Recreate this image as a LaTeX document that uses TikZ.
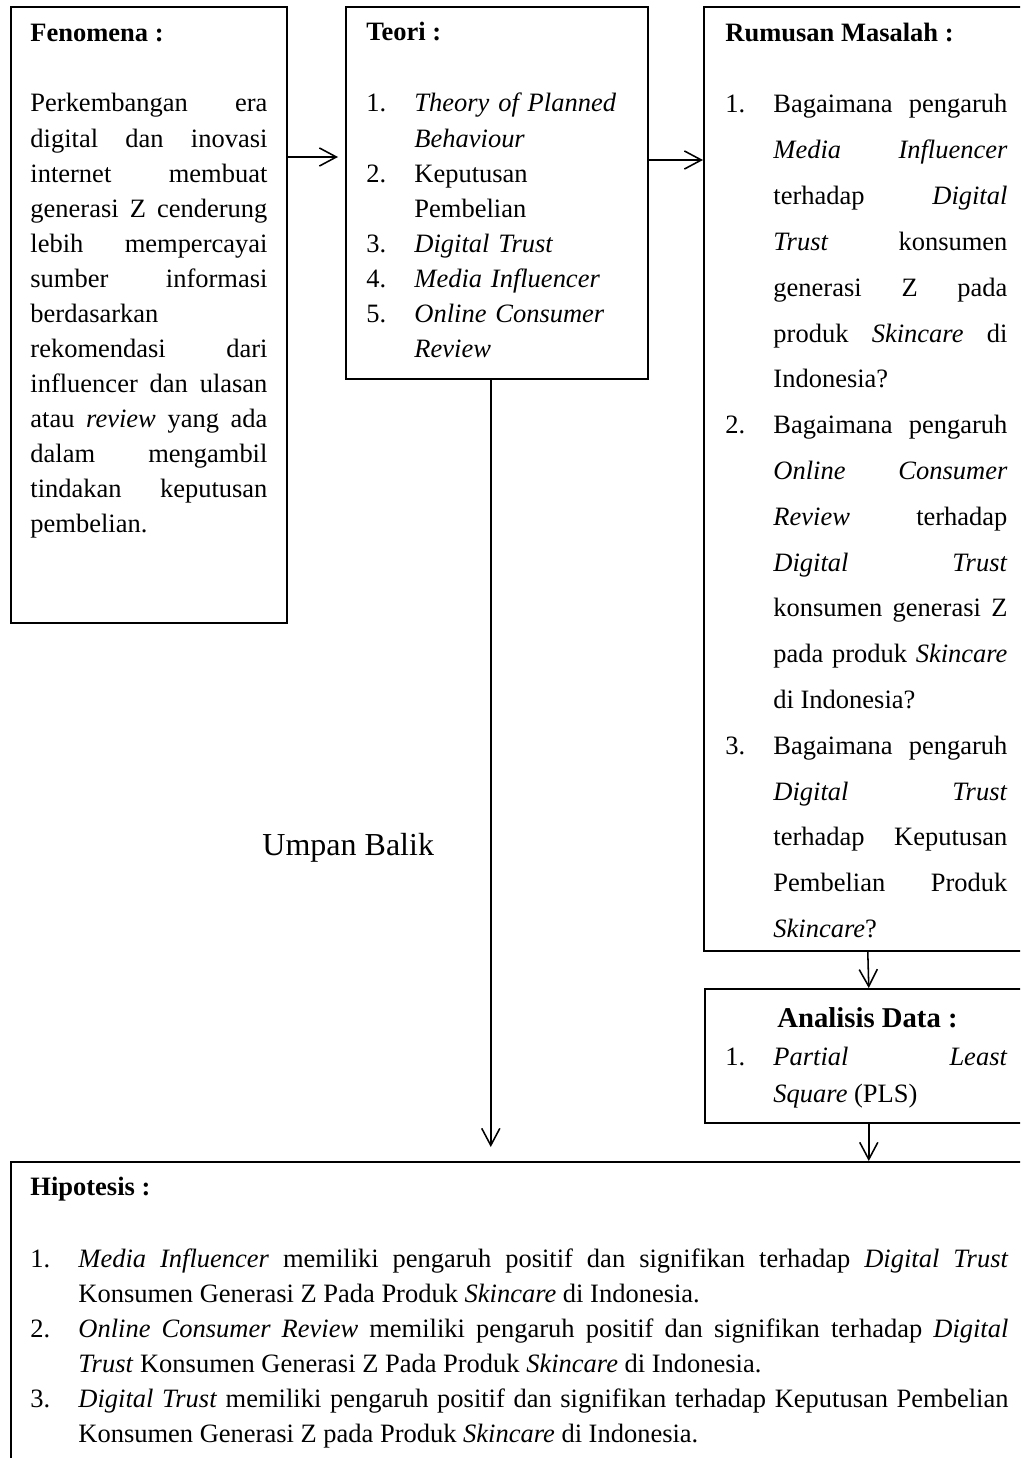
\documentclass[tikz,border=0pt]{standalone}
\usepackage{fontspec}
\setmainfont{Liberation Serif}
\usetikzlibrary{arrows.meta}
\newlength\px
\setlength\px{0.453pt}
\tolerance=10000
\hyphenpenalty=10000
\hbadness=10000
\newcommand{\litem}[1]{\hangindent=48\px\hangafter=1\makebox[48\px][l]{#1}}
\begin{document}
\begin{tikzpicture}[>={Straight Barb[length=7.7pt,width=8.2pt]}, x=0.453pt, y=-0.453pt,
    box/.style={draw, line width=0.7pt, inner sep=0pt, anchor=north west},
    head/.style={anchor=base west, inner sep=0pt, font=\fontsize{12pt}{15.86pt}\selectfont\bfseries},
    txt/.style={anchor=base west, inner sep=0pt, align=justify, font=\fontsize{12pt}{15.86pt}\selectfont},
    link/.style={->, line width=0.7pt}]

  \useasboundingbox (0,0) rectangle (1020,1458);
  \clip (0,0) rectangle (1020,1458);

  \node[box, minimum width=276\px, minimum height=616\px] (fenomena) at (10,6) {};
  \node[box, minimum width=302\px, minimum height=372\px] (teori) at (345,6) {};
  \node[box, minimum width=328\px, minimum height=944\px] (rumusan) at (703,6) {};
  \node[box, minimum width=328\px, minimum height=134\px] (analisis) at (704,988) {};
  \node[box, minimum width=1021\px, minimum height=320\px] (hipotesis) at (10,1161) {};

  \node[head] (fenomenahead) at (30,42) {Fenomena :};
  \node[txt, text width=237\px] (fenomenatext) at (30,112) {Perkembangan era\linebreak
    digital dan inovasi\linebreak internet membuat\linebreak generasi Z cenderung\linebreak
    lebih mempercayai\linebreak sumber informasi\linebreak berdasarkan\newline
    rekomendasi dari\linebreak influencer dan ulasan\linebreak atau \emph{review} yang ada\linebreak
    dalam mengambil\linebreak tindakan keputusan\linebreak pembelian.};

  \node[head] (teorihead) at (366,41) {Teori :};
  \node[txt, align=left, text width=270\px] (teoritext) at (366,112) {%
    \litem{1.}\emph{Theory of Planned}\newline\emph{Behaviour}\par
    \litem{2.}Keputusan\newline Pembelian\par
    \litem{3.}\emph{Digital Trust}\par
    \litem{4.}\emph{Media Influencer}\par
    \litem{5.}\emph{Online Consumer}\newline\emph{Review}\par};

  \node[head] (rumusanhead) at (725,42) {Rumusan Masalah :};
  \node[txt, text width=282\px, font=\fontsize{12pt}{20.75pt}\selectfont] (rumusantext) at (725,113) {%
    \litem{1.}Bagaimana pengaruh\linebreak \emph{Media Influencer}\linebreak terhadap \emph{Digital}\linebreak
    \emph{Trust} konsumen\linebreak generasi Z pada\linebreak produk \emph{Skincare} di\linebreak Indonesia?\par
    \litem{2.}Bagaimana pengaruh\linebreak \emph{Online Consumer}\linebreak \emph{Review} terhadap\linebreak
    \emph{Digital Trust}\linebreak konsumen generasi Z\linebreak pada produk \emph{Skincare}\linebreak di Indonesia?\par
    \litem{3.}Bagaimana pengaruh\linebreak \emph{Digital Trust}\linebreak terhadap Keputusan\linebreak
    Pembelian Produk\linebreak \emph{Skincare}?\par};

  \node[head, font=\fontsize{13pt}{16pt}\selectfont\bfseries] (analisishead) at (777,1027) {Analisis Data :};
  \node[txt, text width=282\px, font=\fontsize{12pt}{16.76pt}\selectfont] (analisistext) at (725,1065) {%
    \litem{1.}\emph{Partial Least}\linebreak \emph{Square} (PLS)\par};

  \node[anchor=base west, inner sep=0pt, font=\fontsize{14.5pt}{17pt}\selectfont] (umpan) at (262,855) {Umpan Balik};

  \node[head] (hipotesishead) at (30,1195) {Hipotesis :};
  \node[txt, text width=978\px] (hipotesistext) at (30,1267) {%
    \litem{1.}\emph{Media Influencer} memiliki pengaruh positif dan signifikan terhadap \emph{Digital Trust}\linebreak
    Konsumen Generasi Z Pada Produk \emph{Skincare} di Indonesia.\par
    \litem{2.}\emph{Online Consumer Review} memiliki pengaruh positif dan signifikan terhadap \emph{Digital}\linebreak
    \emph{Trust} Konsumen Generasi Z Pada Produk \emph{Skincare} di Indonesia.\par
    \litem{3.}\emph{Digital Trust} memiliki pengaruh positif dan signifikan terhadap Keputusan Pembelian\linebreak
    Konsumen Generasi Z pada Produk \emph{Skincare} di Indonesia.\par};

  \draw[link, shorten >=7\px] ([yshift=-151\px]fenomena.north east) -- ([yshift=-151\px]teori.north west);
  \draw[link] ([yshift=-154\px]teori.north east) -- ([yshift=-154\px]rumusan.north west);
  \draw[link, shorten >=14\px] ([xshift=-6\px]teori.south) -- ([xshift=-6\px]teori.south |- hipotesis.north);
  \draw[link] (rumusan.south) -- (analisis.north);
  \draw[link] (analisis.south) -- (analisis.south |- hipotesis.north);
\end{tikzpicture}
\end{document}
